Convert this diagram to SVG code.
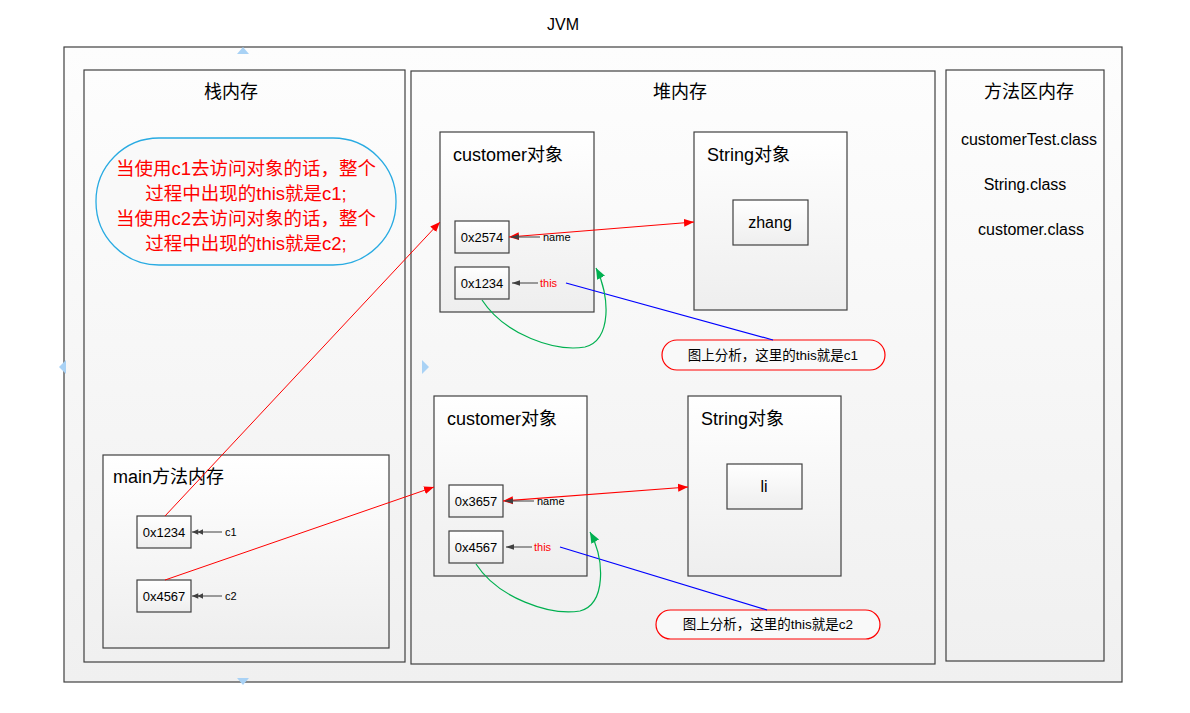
<svg xmlns="http://www.w3.org/2000/svg" width="1190" height="713" viewBox="0 0 1190 713">
<defs>
<linearGradient id="g" x1="0" y1="0" x2="0" y2="1"><stop offset="0" stop-color="#ffffff"/><stop offset="1" stop-color="#eeeeee"/></linearGradient>
<linearGradient id="g2" x1="0" y1="0" x2="0" y2="1"><stop offset="0" stop-color="#fdfdfd"/><stop offset="1" stop-color="#f0f0f0"/></linearGradient>
<marker id="ar" viewBox="0 0 10 10" refX="10" refY="5" markerWidth="10" markerHeight="10" markerUnits="userSpaceOnUse" orient="auto-start-reverse"><path d="M0,1 L10,5 L0,9 z" fill="#ff0000"/></marker>
<marker id="ag" viewBox="0 0 10 10" refX="10" refY="5" markerWidth="11" markerHeight="11" markerUnits="userSpaceOnUse" orient="auto"><path d="M0,1 L10,5 L0,9 z" fill="#00b050"/></marker>
<marker id="ak" viewBox="0 0 10 10" refX="10" refY="5" markerWidth="8" markerHeight="8" markerUnits="userSpaceOnUse" orient="auto"><path d="M0,1.5 L10,5 L0,8.5 z" fill="#404040"/></marker>
<marker id="ak2" viewBox="0 0 14 10" refX="14" refY="5" markerWidth="11" markerHeight="8" markerUnits="userSpaceOnUse" orient="auto"><path d="M0,1.5 L7,5 L0,8.5 z M6,1.5 L14,5 L6,8.5 z" fill="#404040"/></marker>
</defs>
<style>
.box{fill:url(#g);stroke:#404040;stroke-width:1.2}
.area{fill:url(#g2);stroke:#404040;stroke-width:1.2}
.t{font-family:"Liberation Sans","Noto Sans CJK SC",sans-serif;fill:#000}
.title{font-size:18px}
.hx{font-size:13px}
.sm{font-size:11px}
.red{fill:#ff0000}
.tri{fill:#a9d2f5}
</style>
<rect x="0" y="0" width="1190" height="713" fill="#ffffff"/>
<text class="t" x="563" y="30" font-size="16" text-anchor="middle">JVM</text>
<g id="jvm"><rect class="area" x="64" y="47" width="1058" height="635"/></g>
<g id="stack"><rect class="area" x="84" y="70" width="321" height="592"/><text class="t title" x="231" y="98" text-anchor="middle">栈内存</text></g>
<g id="heap"><rect class="area" x="411" y="71" width="524" height="593"/><text class="t title" x="680" y="98" text-anchor="middle">堆内存</text></g>
<g id="method-area"><rect class="area" x="946" y="70" width="158" height="591"/>
<text class="t title" x="1029" y="98" text-anchor="middle">方法区内存</text>
<text class="t" x="1029" y="145" font-size="16" text-anchor="middle">customerTest.class</text>
<text class="t" x="1025" y="190" font-size="16" text-anchor="middle">String.class</text>
<text class="t" x="1031" y="235" font-size="16" text-anchor="middle">customer.class</text>
</g>
<g id="note"><rect x="96" y="138" width="300" height="127" rx="63" fill="#f9f9f9" stroke="#29abe2" stroke-width="1.3"/>
<text class="t red" font-size="18.5" text-anchor="middle"><tspan x="246" y="175">当使用c1去访问对象的话，整个</tspan><tspan x="246" y="200">过程中出现的this就是c1;</tspan><tspan x="246" y="225">当使用c2去访问对象的话，整个</tspan><tspan x="246" y="250">过程中出现的this就是c2;</tspan></text></g>
<g id="main"><rect class="box" x="103" y="455" width="286" height="193"/><text class="t title" x="113" y="483">main方法内存</text>
<rect class="box" x="137" y="516" width="54" height="32"/><text class="t hx" x="164" y="537" text-anchor="middle">0x1234</text>
<rect class="box" x="137" y="580" width="54" height="32"/><text class="t hx" x="164" y="601" text-anchor="middle">0x4567</text>
<text class="t sm" x="225" y="536">c1</text><text class="t sm" x="225" y="600">c2</text></g>
<g id="cust1"><rect class="box" x="440" y="132" width="154" height="180"/><text class="t title" x="453" y="161">customer对象</text>
<rect class="box" x="455" y="221" width="54" height="32"/><text class="t hx" x="482" y="242" text-anchor="middle">0x2574</text>
<rect class="box" x="455" y="267" width="54" height="32"/><text class="t hx" x="482" y="288" text-anchor="middle">0x1234</text>
<text class="t sm" x="543" y="241">name</text><text class="t sm red" x="540" y="287">this</text></g>
<g id="str1"><rect class="box" x="694" y="132" width="153" height="178"/><text class="t title" x="707" y="161">String对象</text>
<rect class="box" x="733" y="200" width="75" height="45"/><text class="t" x="770" y="228" font-size="16" text-anchor="middle">zhang</text></g>
<g id="cust2"><rect class="box" x="434" y="396" width="153" height="180"/><text class="t title" x="447" y="425">customer对象</text>
<rect class="box" x="449" y="485" width="54" height="32"/><text class="t hx" x="476" y="506" text-anchor="middle">0x3657</text>
<rect class="box" x="449" y="531" width="54" height="32"/><text class="t hx" x="476" y="552" text-anchor="middle">0x4567</text>
<text class="t sm" x="537" y="505">name</text><text class="t sm red" x="534" y="551">this</text></g>
<g id="str2"><rect class="box" x="688" y="396" width="153" height="180"/><text class="t title" x="701" y="425">String对象</text>
<rect class="box" x="727" y="464" width="75" height="45"/><text class="t" x="764" y="492" font-size="16" text-anchor="middle">li</text></g>
<g id="callout1"><rect x="662" y="340" width="223" height="30" rx="15" fill="#f9f9f9" stroke="#ff0000" stroke-width="1.2"/><text class="t" x="773" y="360" font-size="13.5" text-anchor="middle" fill="#404040">图上分析，这里的this就是c1</text></g>
<g id="callout2"><rect x="656" y="610" width="224" height="29" rx="14.5" fill="#f9f9f9" stroke="#ff0000" stroke-width="1.2"/><text class="t" x="768" y="629" font-size="13.5" text-anchor="middle" fill="#404040">图上分析，这里的this就是c2</text></g>
<g id="connectors" fill="none">
<line x1="165" y1="516" x2="440" y2="222" stroke="#ff0000" marker-end="url(#ar)"/>
<line x1="165" y1="580" x2="434" y2="487" stroke="#ff0000" marker-end="url(#ar)"/>
<line x1="509" y1="237" x2="694" y2="222" stroke="#ff0000" stroke-width="1.2" marker-start="url(#ar)" marker-end="url(#ar)"/>
<line x1="503" y1="501" x2="688" y2="487" stroke="#ff0000" stroke-width="1.2" marker-start="url(#ar)" marker-end="url(#ar)"/>
<line x1="540" y1="237" x2="511" y2="237" stroke="#404040" marker-end="url(#ak)"/>
<line x1="538" y1="283" x2="512" y2="283" stroke="#404040" marker-end="url(#ak)"/>
<line x1="534" y1="501" x2="505" y2="501" stroke="#404040" marker-end="url(#ak)"/>
<line x1="532" y1="547" x2="506" y2="547" stroke="#404040" marker-end="url(#ak)"/>
<line x1="222" y1="532" x2="192" y2="532" stroke="#404040" marker-end="url(#ak2)"/>
<line x1="222" y1="596" x2="192" y2="596" stroke="#404040" marker-end="url(#ak2)"/>
<line x1="566" y1="283" x2="773" y2="340" stroke="#0000ff" stroke-width="1.2"/>
<line x1="560" y1="547" x2="767" y2="610" stroke="#0000ff" stroke-width="1.2"/>
<path d="M482,300 C505,335 555,352 585,347 C612,340 610,295 596,268" stroke="#00b050" stroke-width="1.2" marker-end="url(#ag)"/>
<path d="M476,564 C498,598 550,616 580,611 C606,604 605,560 590,532" stroke="#00b050" stroke-width="1.2" marker-end="url(#ag)"/>
</g>
<g id="handles">
<path class="tri" d="M237,54 L249,54 L243,47 z"/>
<path class="tri" d="M66,360 L66,374 L59,367 z"/>
<path class="tri" d="M422,360 L422,374 L429,367 z"/>
<path class="tri" d="M237,678 L249,678 L243,685 z"/>
</g>
</svg>
